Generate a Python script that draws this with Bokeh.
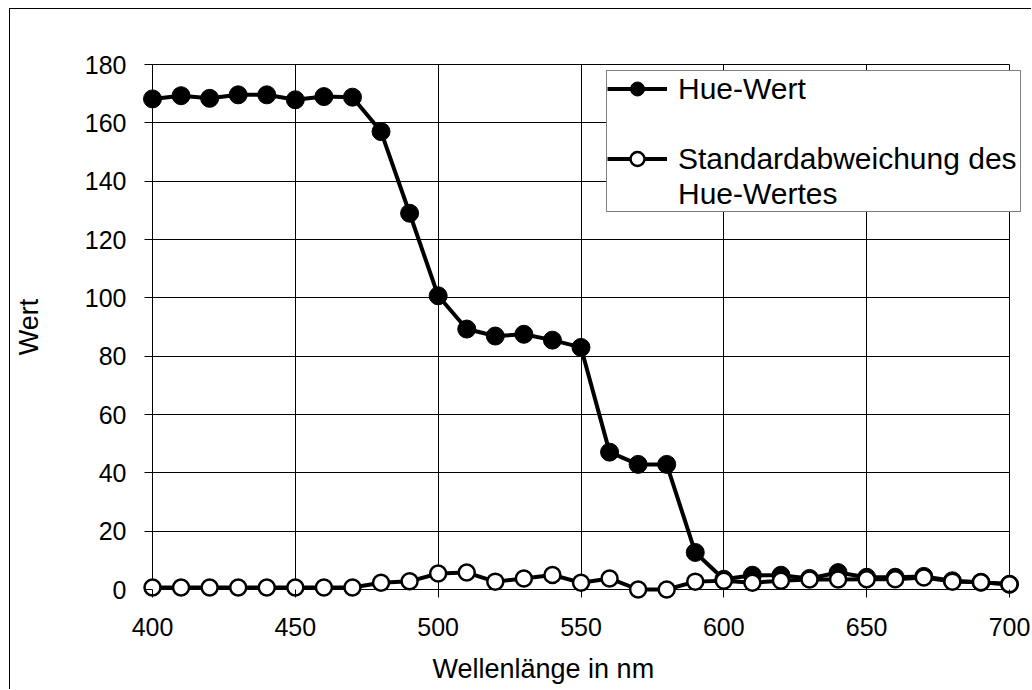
from bokeh.plotting import figure
from bokeh.models import Range1d, FixedTicker, Legend, LegendItem, Title
from bokeh.embed import file_html
from bokeh.resources import INLINE

# ---- data ----
wavelength = [400, 410, 420, 430, 440, 450, 460, 470, 480, 490, 500,
              510, 520, 530, 540, 550, 560, 570, 580, 590, 600,
              610, 620, 630, 640, 650, 660, 670, 680, 690, 700]
hue_wert = [168.2, 169.3, 168.4, 169.6, 169.6, 167.9, 169.0, 168.8, 157.0, 129.0, 100.7,
            89.3, 86.9, 87.5, 85.5, 83.0, 47.1, 42.9, 42.9, 12.7, 3.5,
            4.9, 4.9, 3.8, 5.8, 4.2, 4.2, 4.5, 3.0, 2.5, 1.8]
std_hue = [0.7, 0.7, 0.7, 0.7, 0.7, 0.7, 0.7, 0.7, 2.3, 2.8, 5.5,
           5.8, 2.7, 3.8, 5.0, 2.3, 3.8, 0.0, 0.0, 2.7, 3.0,
           2.3, 3.0, 3.4, 3.4, 3.5, 3.5, 4.1, 2.7, 2.5, 1.8]
x_ticks = [400, 450, 500, 550, 600, 650, 700]
y_ticks = [0, 20, 40, 60, 80, 100, 120, 140, 160, 180]
legend_hue = "Hue-Wert"
legend_std_lines = ["Standardabweichung des", "Hue-Wertes"]
x_title = "Wellenlänge in nm"
y_title = "Wert"

FONT = "Liberation Sans"

p = figure(width=1022, height=681,
           x_range=Range1d(395.1, 704.9), y_range=Range1d(-4.8, 184.8),
           output_backend="svg", toolbar_location=None,
           min_border_left=127, min_border_right=9,
           min_border_top=41, min_border_bottom=87)
p.styles = {"margin-left": "9px", "margin-top": "8px",
            "border-left": "1px solid black", "border-top": "1px solid black"}
p.outline_line_color = None
p.background_fill_color = "white"
p.border_fill_color = "white"

for ax, ticks in ((p.xaxis[0], x_ticks), (p.yaxis[0], y_ticks)):
    ax.ticker = FixedTicker(ticks=ticks)
    ax.axis_line_color = None
    ax.major_tick_in = 14
    ax.major_tick_out = -6
    ax.minor_tick_line_color = None
    ax.major_tick_line_color = "black"
    ax.major_tick_line_width = 1
    ax.major_label_text_font = FONT
    ax.major_label_text_font_size = "25px"
    ax.major_label_text_color = "black"

p.xaxis.major_label_standoff = 14
p.yaxis.major_label_standoff = 12

p.yaxis.axis_label = y_title
p.yaxis.axis_label_text_font = FONT
p.yaxis.axis_label_text_font_size = "27px"
p.yaxis.axis_label_text_font_style = "normal"
p.yaxis.axis_label_text_color = "black"
p.yaxis.axis_label_standoff = 38

p.xgrid.ticker = FixedTicker(ticks=x_ticks)
p.ygrid.ticker = FixedTicker(ticks=y_ticks)
p.xgrid.cross_bounds = (0, 180)
p.ygrid.cross_bounds = (400, 700)
for g in (p.xgrid[0], p.ygrid[0]):
    g.grid_line_color = "black"
    g.grid_line_width = 1

r1 = p.line(wavelength, hue_wert, line_color="black", line_width=4)
r2 = p.scatter(wavelength, hue_wert, size=18, fill_color="black", line_color="black")
r3 = p.line(wavelength, std_hue, line_color="black", line_width=4)
r4 = p.scatter(wavelength, std_hue, size=16, fill_color="white",
               line_color="black", line_width=2.5)
# invisible renderer used for legend spacer / continuation rows
r_blank = p.scatter(wavelength, std_hue, size=0, fill_alpha=0, line_alpha=0)

legend = Legend(items=[LegendItem(label=legend_hue, renderers=[r1, r2]),
                       LegendItem(label=" ", renderers=[r_blank]),
                       LegendItem(label=legend_std_lines[0], renderers=[r3, r4]),
                       LegendItem(label=legend_std_lines[1], renderers=[r_blank])],
                location=(468, 391), padding=0, margin=0, spacing=0,
                glyph_width=60, glyph_height=35, label_standoff=11, label_width=342,
                label_height=35,
                label_text_font=FONT, label_text_font_size="30px",
                label_text_color="black",
                border_line_color="black", border_line_width=1,
                background_fill_color="white", background_fill_alpha=1)
p.add_layout(legend)

# small spacer between tick labels and the axis title
p.add_layout(Title(text=" ", standoff=0, text_font_size="6px"), "below")
p.add_layout(Title(text=x_title, align="left", offset=294, standoff=10, text_font=FONT,
                   text_font_size="27px", text_font_style="normal",
                   text_color="black"), "below")

open("out.html", "w").write(file_html(p, INLINE))
